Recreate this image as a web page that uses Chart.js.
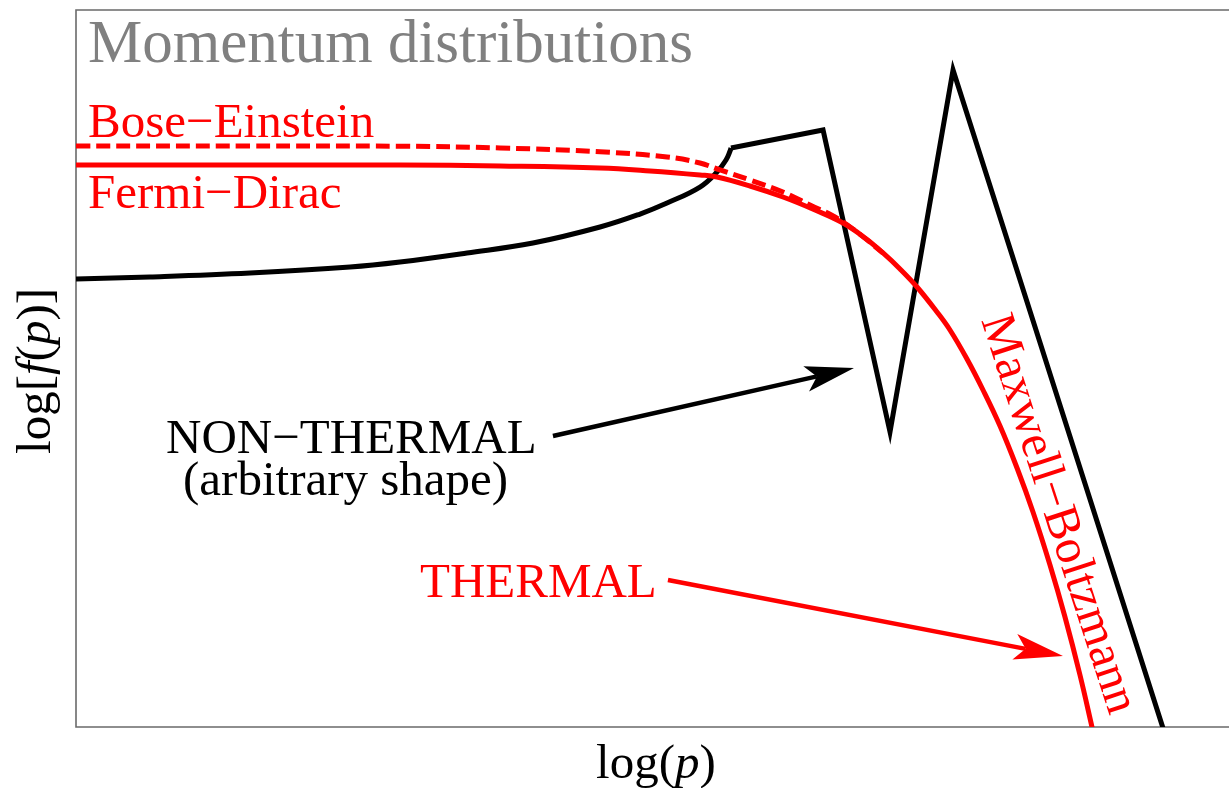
<!DOCTYPE html>
<html>
<head>
<meta charset="utf-8">
<script src="https://cdn.jsdelivr.net/npm/chart.js@4.4.1/dist/chart.umd.min.js"></script>
<style>
  html, body { margin: 0; padding: 0; background: #fff; overflow: hidden; }
  canvas { display: block; }
</style>
</head>
<body>
<canvas id="chart" width="1229" height="788"></canvas>
<script>
// Sketch of momentum distributions: x = log(p), y = log f(p), arbitrary units.

// Fermi-Dirac (solid red), merging into the Maxwell-Boltzmann tail
const fermiDiracX = [0, 1.811, 3.372, 4.413, 5.454, 5.974, 6.494, 6.671, 7.015, 7.358, 7.691, 7.983, 8.212, 8.399,
                     8.576, 8.753, 8.961, 9.096, 9.273, 9.440, 9.617, 9.794, 9.960, 10.137, 10.293, 10.449, 10.574, 10.616];
const fermiDiracY = [7.054, 7.054, 7.054, 7.042, 7.017, 6.980, 6.929, 6.904, 6.791, 6.653, 6.490, 6.326, 6.138, 5.950,
                     5.749, 5.523, 5.209, 4.983, 4.619, 4.230, 3.778, 3.251, 2.699, 2.033, 1.381, 0.653, 0, -0.226];

// Bose-Einstein (dashed red), above Fermi-Dirac at low momentum
const boseEinsteinX = [0, 1.811, 3.372, 4.413, 5.454, 6.151, 6.494, 6.703, 7.015, 7.358, 7.639, 7.899, 8.128, 8.399];
const boseEinsteinY = [7.293, 7.293, 7.290, 7.268, 7.220, 7.155, 7.079, 6.992, 6.866, 6.715, 6.552, 6.402, 6.213, 5.950];

// Non-thermal distribution: smooth rise, then an arbitrary zigzag
const nonThermalCurveX = [0, 0.770, 1.811, 2.852, 3.372, 4.069, 4.756, 5.454, 5.870, 6.151, 6.494, 6.671, 6.765, 6.807, 6.817];
const nonThermalCurveY = [5.623, 5.649, 5.699, 5.774, 5.837, 5.950, 6.075, 6.276, 6.439, 6.577, 6.778, 6.966, 7.117, 7.230, 7.268];
const nonThermalZigzagX = [6.817, 7.775, 8.472, 9.128, 11.313];
const nonThermalZigzagY = [7.268, 7.494, 3.703, 8.247, -0.013];

// Annotation arrows: [x0, y0, x1 (tip), y1 (tip)]
const nonThermalArrow = [4.964, 3.653, 8.097, 4.506];
const thermalArrow = [6.161, 1.845, 10.272, 0.891];

// Text
const titleText = 'Momentum distributions';
const seriesNames = ['Bose\u2212Einstein', 'Fermi\u2212Dirac', 'Maxwell\u2212Boltzmann'];
const nonThermalText = ['NON\u2212THERMAL', '(arbitrary shape)'];
const thermalText = 'THERMAL';
const xTitle = [['log(', false], ['p', true], [')', false]];
const yTitle = [['log[', false], ['f', true], ['(', false], ['p', true], [')]', false]];

const RED = '#ff0000';
const BLACK = '#000000';
const SERIF = '"Liberation Serif", "Times New Roman", serif';
const LINE_W = 5;
const ARROW_W = 4.5;

const pts = (xs, ys) => xs.map((x, i) => ({ x, y: ys[i] }));

// Text placements in data units
const texts = [
  { parts: [[titleText, false]], x: 0.125, y: 8.347, size: 61, color: '#808080', align: 'left', angle: 0 },
  { parts: [[seriesNames[0], false]], x: 0.125, y: 7.406, size: 49, color: RED, align: 'left', angle: 0 },
  { parts: [[seriesNames[1], false]], x: 0.125, y: 6.515, size: 49, color: RED, align: 'left', angle: 0 },
  { parts: [[seriesNames[2], false]], x: 9.419, y: 5.109, size: 49, color: RED, align: 'left', angle: 72 },
  { parts: [[nonThermalText[0], false]], x: 0.937, y: 3.439, size: 49, color: BLACK, align: 'left', angle: 0 },
  { parts: [[nonThermalText[1], false]], x: 1.114, y: 2.912, size: 49, color: BLACK, align: 'left', angle: 0 },
  { parts: [[thermalText, false]], x: 3.580, y: 1.632, size: 49, color: RED, align: 'left', angle: 0 },
  { parts: xTitle, x: 6.036, y: -0.640, size: 49, color: BLACK, align: 'center', angle: 0 },
  { parts: yTitle, x: -0.271, y: 4.469, size: 49, color: BLACK, align: 'center', angle: -90 }
];

const framePlugin = {
  id: 'frame',
  beforeDatasetsDraw(chart) {
    const { ctx, chartArea: a } = chart;
    ctx.save();
    ctx.strokeStyle = '#6a6a6a';
    ctx.lineWidth = 1.6;
    ctx.beginPath();
    ctx.moveTo(a.right + 2, a.top);
    ctx.lineTo(a.left, a.top);
    ctx.lineTo(a.left, a.bottom);
    ctx.lineTo(a.right + 2, a.bottom);
    ctx.stroke();
    ctx.restore();
  }
};

function drawArrow(ctx, x0, y0, x1, y1, color) {
  const headLen = 49, headHalf = 13, notch = 11;
  const dx = x1 - x0, dy = y1 - y0, L = Math.hypot(dx, dy);
  const ux = dx / L, uy = dy / L, nx = -uy, ny = ux;
  const bx = x1 - ux * headLen, by = y1 - uy * headLen;
  const ix = x1 - ux * (headLen - notch), iy = y1 - uy * (headLen - notch);
  ctx.strokeStyle = color;
  ctx.fillStyle = color;
  ctx.lineWidth = ARROW_W;
  ctx.lineCap = 'butt';
  ctx.beginPath();
  ctx.moveTo(x0, y0);
  ctx.lineTo(ix, iy);
  ctx.stroke();
  ctx.beginPath();
  ctx.moveTo(x1, y1);
  ctx.lineTo(bx + nx * headHalf, by + ny * headHalf);
  ctx.lineTo(ix, iy);
  ctx.lineTo(bx - nx * headHalf, by - ny * headHalf);
  ctx.closePath();
  ctx.fill();
}

const annotationPlugin = {
  id: 'annotations',
  afterDatasetsDraw(chart) {
    const { ctx } = chart;
    const xs = chart.scales.x, ys = chart.scales.y;
    ctx.save();
    [[nonThermalArrow, BLACK], [thermalArrow, RED]].forEach(([a, c]) => {
      drawArrow(ctx, xs.getPixelForValue(a[0]), ys.getPixelForValue(a[1]),
                xs.getPixelForValue(a[2]), ys.getPixelForValue(a[3]), c);
    });
    texts.forEach(t => {
      const px = xs.getPixelForValue(t.x), py = ys.getPixelForValue(t.y);
      ctx.save();
      ctx.translate(px, py);
      ctx.rotate(t.angle * Math.PI / 180);
      ctx.fillStyle = t.color;
      ctx.textBaseline = 'alphabetic';
      ctx.textAlign = 'left';
      const fonts = t.parts.map(p => (p[1] ? 'italic ' : '') + t.size + 'px ' + SERIF);
      let total = 0;
      const widths = t.parts.map((p, i) => { ctx.font = fonts[i]; const w = ctx.measureText(p[0]).width; total += w; return w; });
      let cx = t.align === 'center' ? -total / 2 : 0;
      t.parts.forEach((p, i) => {
        ctx.font = fonts[i];
        ctx.fillText(p[0], cx, 0);
        cx += widths[i];
      });
      ctx.restore();
    });
    ctx.restore();
  }
};

new Chart(document.getElementById('chart'), {
  type: 'line',
  data: {
    datasets: [
      { label: 'Fermi-Dirac', data: pts(fermiDiracX, fermiDiracY), borderColor: RED, borderWidth: LINE_W,
        tension: 0.4, pointRadius: 0, clip: 0 },
      { label: 'Bose-Einstein', data: pts(boseEinsteinX, boseEinsteinY), borderColor: RED, borderWidth: LINE_W,
        borderDash: [14, 6], tension: 0.4, pointRadius: 0, clip: 0 },
      { label: 'Non-thermal', data: pts(nonThermalCurveX, nonThermalCurveY), borderColor: BLACK, borderWidth: LINE_W,
        tension: 0.4, pointRadius: 0, clip: 0 },
      { label: 'Non-thermal zigzag', data: pts(nonThermalZigzagX, nonThermalZigzagY), borderColor: BLACK, borderWidth: LINE_W,
        tension: 0, borderJoinStyle: 'miter', pointRadius: 0, clip: 0 }
    ]
  },
  options: {
    responsive: false,
    animation: false,
    devicePixelRatio: 1,
    layout: { padding: { left: 76, top: 10, right: 0, bottom: 61 } },
    scales: {
      x: { type: 'linear', min: 0, max: 12, display: false },
      y: { type: 'linear', min: 0, max: 9, display: false }
    },
    plugins: { legend: { display: false }, tooltip: { enabled: false } },
    elements: { line: { fill: false }, point: { radius: 0 } }
  },
  plugins: [framePlugin, annotationPlugin]
});
</script>
</body>
</html>
